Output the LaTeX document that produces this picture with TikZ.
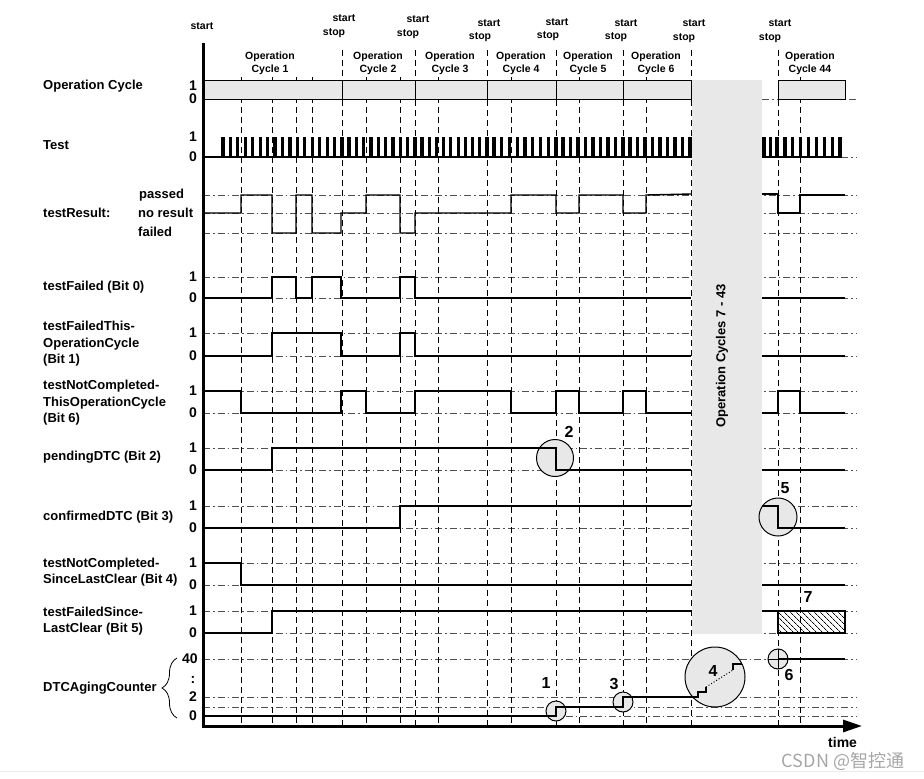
\documentclass[tikz,border=0pt]{standalone}
\usepackage{fontspec}
\setmainfont{Liberation Sans}
\newfontfamily\cjkfont{Noto Sans CJK SC}
\usetikzlibrary{positioning, arrows.meta, calc, decorations.pathreplacing, patterns.meta}

\definecolor{blockgray}{RGB}{232,232,232}
\definecolor{levelgray}{RGB}{80,80,80}

\tikzset{
  sig/.style={line width=1.4pt, black},
  level/.style={line width=0.6pt, levelgray, dash pattern=on 7pt off 3pt on 1.5pt off 3pt},
  marker/.style={line width=0.8pt, black, dash pattern=on 6pt off 4pt},
  pulse/.style={line width=3.2pt, black},
  rowlbl/.style={anchor=west, align=left, inner sep=0pt, font=\fontsize{13}{16.5}\selectfont\bfseries},
  vallbl/.style={inner sep=0pt, font=\fontsize{14}{16}\selectfont\bfseries},
  cyclbl/.style={align=center, inner sep=0pt, font=\fontsize{10.5}{13}\selectfont\bfseries},
  numlbl/.style={inner sep=0pt, font=\fontsize{16}{18}\selectfont\bfseries},
  hilite/.style={draw=black, line width=1pt, fill=blockgray},
}

\begin{document}
\begin{tikzpicture}[x=1pt, y=-1pt]
\useasboundingbox (0,0) rectangle (924,779);
\draw[black!8, line width=1pt] (0,771) -- (924,771);

% Level lines
\foreach \yy in {157,195,213,233,277,298,333,356,391,413,448,470,506,528,563,585,611,633,659,697,707,716}
  \draw[level] (203,\yy) -- (856,\yy);
\draw[level] (762,99) -- (856,99);

% Time markers
\foreach \xx in {342,415,487,556,623,691,778}
  \draw[marker] (\xx,50) -- (\xx,726);
\foreach \xx in {241,272,296,312,366,400,438,511,579,646,800}
  \draw[marker] (\xx,77) -- (\xx,726);

% Operation cycles
\fill[blockgray] (692,80) rectangle (762,634);
\draw[fill=blockgray, line width=1pt] (203,80) rectangle (691,99);
\foreach \xx in {342,415,487,556,623}
  \draw[line width=1pt] (\xx,80) -- (\xx,99);
\draw[fill=blockgray, line width=1pt] (778,80) rectangle (845,99);

\node[cyclbl] (oc1) at (270,63) {Operation\\Cycle 1};
\node[cyclbl] (oc2) at (378,63) {Operation\\Cycle 2};
\node[cyclbl] (oc3) at (450,63) {Operation\\Cycle 3};
\node[cyclbl] (oc4) at (521,63) {Operation\\Cycle 4};
\node[cyclbl] (oc5) at (588,63) {Operation\\Cycle 5};
\node[cyclbl] (oc6) at (656,63) {Operation\\Cycle 6};
\node[cyclbl] (oc44) at (810,63) {Operation\\Cycle 44};
\node[rowlbl, anchor=center, rotate=90] (ocmid) at (722,356) {Operation Cycles 7 - 43};

% start / stop
\node[cyclbl] (st0) at (202,26) {start};
\foreach \xa/\ya/\xb/\yb [count=\i] in {344/18/334/33, 418/19/408/34, 489/23/480/37, 557/22/548/36, 626/23/616/37, 694/23/684/38, 780/23/770/38} {
  \node[cyclbl] (st\i) at (\xa,\ya) {start};
  \node[cyclbl] (sp\i) at (\xb,\yb) {stop};
}

% Test
\draw[sig, line width=1.3pt] (203,157) -- (691,157) (762,157) -- (840,157);
\foreach \s/\e/\n in {223/342/16, 349/415/9, 422/487/9, 494/556/8, 563/623/8, 630/690/8, 764/777/2, 785/840/7}
  \foreach \k in {0,...,\n}
    \draw[pulse] ({\s+\k*(\e-\s)/\n},137) -- ({\s+\k*(\e-\s)/\n},157.6);

% Signals
\draw[sig] (203,213) -| (241,195) -| (272,233) -| (296,195) -| (312,233) -| (341,213) -| (366,195) -| (400,233) -| (415,213) -| (511,195) -| (556,213) -| (579,195) -| (623,213) -| (646,195) -- (691,194);
\draw[sig] (762,194) -| (778,213) -| (800,195) -- (845,195);

\draw[sig] (203,298) -| (272,277) -| (296,298) -| (312,277) -| (341,298) -| (400,277) -| (415,298) -- (691,298);
\draw[sig] (762,298) -- (845,298);

\draw[sig] (203,356) -| (272,333) -| (341,356) -| (400,333) -| (415,356) -- (691,356);
\draw[sig] (762,356) -- (845,356);

\draw[sig] (203,391) -| (241,413) -| (341,391) -| (366,413) -| (415,391) -| (511,413) -| (556,391) -| (579,413) -| (623,391) -| (646,413) -- (691,413);
\draw[sig] (762,413) -| (778,391) -| (800,413) -- (845,413);

\draw[hilite] (555,458) circle (18.5pt);
\draw[sig] (203,470) -| (272,448) -- (556,448) -- (556,470) -- (691,470);
\draw[sig] (762,470) -- (845,470);

\draw[hilite] (778,517) circle (19pt);
\draw[sig] (203,528) -| (400,506) -- (691,506);
\draw[sig] (762,506) -| (778,528) -- (845,528);

\draw[sig] (203,563) -| (241,585) -- (691,585);
\draw[sig] (762,585) -- (845,585);

\draw[sig] (203,633) -| (272,611) -- (691,611);
\draw[sig] (762,611) -- (778,611);
\draw[line width=1.2pt, pattern={Lines[angle=-45, distance=4pt, line width=0.7pt]}] (778,611) rectangle (845,633);

% DTCAgingCounter
\draw[hilite] (556,711) circle (10pt);
\draw[hilite] (623,702) circle (10pt);
\draw[hilite] (715,677) circle (30pt);
\draw[hilite] (778,659) circle (10pt);
\draw[line width=0.7pt] (778,649) -- (778,669) (768,659) -- (778,659);
\draw[sig] (203,716) -- (556,716) -- (556,707) -- (623,707) -- (623,697) -- (691,697) -- (698,697) -- (698,692) -- (706,692) -- (706,687);
\draw[line width=1pt, dotted] (706,687) -- (733,670);
\draw[sig] (733,670) -- (733,664) -- (742,664);
\draw[sig] (778,659) -- (845,659);

% Axes
\draw[line width=3pt] (203,43) -- (203,727.5);
\draw[line width=3pt, -{Triangle[length=19pt, width=12pt]}] (201.5,726) -- (862,726);
\node[rowlbl, font=\fontsize{14}{16}\selectfont\bfseries] (time) at (828,742) {time};

% Row labels
\node[rowlbl] (lop) at (43,86) {Operation Cycle};
\node[rowlbl] (ltest) at (43,145) {Test};
\node[rowlbl] (lres) at (43,213) {testResult:};
\node[rowlbl] (lpas) at (139,195) {passed};
\node[rowlbl] (lnor) at (138,213) {no result};
\node[rowlbl] (lfai) at (138,232) {failed};
\node[rowlbl] (lb0) at (43,287) {testFailed (Bit 0)};
\node[rowlbl] (lb1) at (43,344) {testFailedThis-\\OperationCycle\\(Bit 1)};
\node[rowlbl] (lb6) at (43,403) {testNotCompleted-\\ThisOperationCycle\\(Bit 6)};
\node[rowlbl] (lb2) at (43,457) {pendingDTC (Bit 2)};
\node[rowlbl] (lb3) at (43,517) {confirmedDTC (Bit 3)};
\node[rowlbl] (lb4) at (43,572) {testNotCompleted-\\SinceLastClear (Bit 4)};
\node[rowlbl] (lb5) at (43,621) {testFailedSince-\\LastClear (Bit 5)};
\node[rowlbl] (lage) at (43,688) {DTCAgingCounter};
\draw[decorate, decoration={brace, amplitude=15pt}, line width=0.8pt] (177,718) -- (177,658);

% Values
\foreach \yy/\t [count=\i] in {86/1, 99/0, 137/1, 157/0, 277/1, 298/0, 333/1, 356/0, 391/1, 413/0, 448/1, 470/0, 506/1, 528/0, 563/1, 585/0, 611/1, 633/0, 697/2, 716/0}
  \node[vallbl] (v\i) at (193,\yy) {\t};
\node[vallbl] (v40) at (190,659) {40};
\node[vallbl] (vdots) at (193,680) {:};

% Numbers
\node[numlbl] (n1) at (546,683) {1};
\node[numlbl] (n2) at (569,432) {2};
\node[numlbl] (n3) at (614,684) {3};
\node[numlbl] (n4) at (713,671) {4};
\node[numlbl] (n5) at (785,488) {5};
\node[numlbl] (n6) at (789,675) {6};
\node[numlbl] (n7) at (808,597) {7};

\node[inner sep=0pt, text=black!35, font=\cjkfont\fontsize{18}{20}\selectfont] (wm) at (843,761) {CSDN @智控通};
\end{tikzpicture}
\end{document}
